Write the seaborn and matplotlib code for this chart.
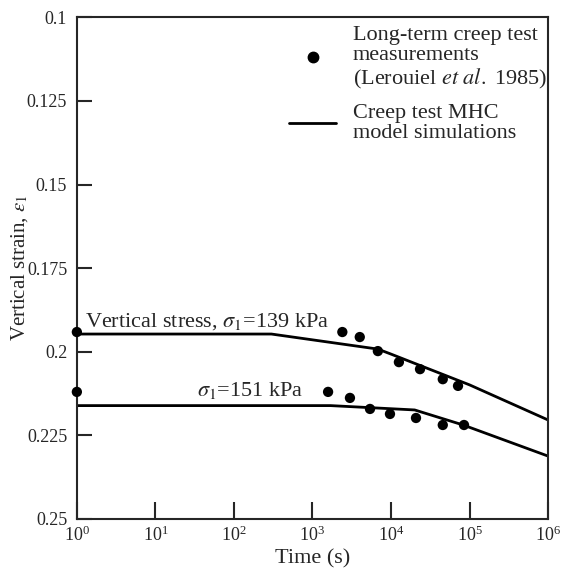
"""Creep test: measured vertical strain vs time with MHC model simulations"""

import matplotlib.pyplot as plt
import matplotlib.ticker as mticker
import pandas as pd
import seaborn as sns
from matplotlib.lines import Line2D

# measured points (Leroueil et al. 1985)
meas_t_139 = [1, 2400, 4000, 6800, 12600, 23400, 45600, 71300]
meas_e_139 = [0.1941, 0.1941, 0.1956, 0.1998, 0.2031, 0.2052, 0.2082, 0.2102]
meas_t_151 = [1, 1580, 3000, 5400, 9700, 20800, 45600, 85000]
meas_e_151 = [0.2120, 0.2120, 0.2138, 0.2171, 0.2186, 0.2198, 0.2219, 0.2219]

# model simulations
sim_t_139 = [1, 300, 6800, 1e4, 1e5, 1e6]
sim_e_139 = [0.1947, 0.1947, 0.1992, 0.2007, 0.2099, 0.2204]
sim_t_151 = [1, 1700, 2e4, 8.3e4, 1e6]
sim_e_151 = [0.2161, 0.2161, 0.2174, 0.2219, 0.2312]

y_ticks = [0.1, 0.125, 0.15, 0.175, 0.2, 0.225, 0.25]
y_tick_labels = ["0.1", "0.125", "0.15", "0.175", "0.2", "0.225", "0.25"]

sns.set_style("ticks")
plt.rcParams["font.family"] = ["Liberation Serif", "DejaVu Serif"]
plt.rcParams["mathtext.fontset"] = "stix"

meas = pd.concat([
    pd.DataFrame({"t": meas_t_139, "e": meas_e_139, "stress": "139"}),
    pd.DataFrame({"t": meas_t_151, "e": meas_e_151, "stress": "151"}),
])
sim = pd.concat([
    pd.DataFrame({"t": sim_t_139, "e": sim_e_139, "stress": "139"}),
    pd.DataFrame({"t": sim_t_151, "e": sim_e_151, "stress": "151"}),
])

fig = plt.figure(figsize=(5.61, 5.72), dpi=100)
ax = fig.add_axes([0.137, 0.0927, 0.84, 0.877])

sns.lineplot(data=sim, x="t", y="e", units="stress", estimator=None,
             color="black", linewidth=2, ax=ax, legend=False, sort=False)
sns.scatterplot(data=meas, x="t", y="e", color="black", s=55,
                edgecolor="none", ax=ax, legend=False, clip_on=False, zorder=5)

ax.set_xscale("log")
ax.set_xlim(1, 1e6)
ax.set_ylim(0.25, 0.1)
ax.set_xticks([10.0 ** k for k in range(7)])
ax.xaxis.set_minor_locator(mticker.NullLocator())
ax.xaxis.set_major_formatter(mticker.LogFormatterMathtext())
ax.set_yticks(y_ticks)
ax.set_yticklabels(y_tick_labels)

ax.tick_params(axis="both", direction="in", width=1.5, top=False, right=False)
ax.tick_params(axis="y", length=11, pad=7, labelsize=13)
ax.tick_params(axis="x", length=12, pad=5, labelsize=13)
for sp in ax.spines.values():
    sp.set_linewidth(1.5)

ax.set_xlabel("Time (s)", fontsize=16, labelpad=3)
ax.set_ylabel(r"Vertical strain, $\varepsilon_1$", fontsize=15)
ax.yaxis.set_label_coords(-0.1, 0.5)

ax.text(1.26, 0.1926, r"Vertical stress, $\sigma_1$=139 kPa", fontsize=16,
        va="baseline", ha="left")
ax.text(33.8, 0.2132, r"$\sigma_1$=151 kPa", fontsize=16,
        va="baseline", ha="left")

handles = [
    Line2D([], [], marker="o", linestyle="none", color="black", markersize=7.5),
    Line2D([], [], color="black", linewidth=2),
]
labels = [
    "Long-term creep test\nmeasurements\n(Lerouiel $\\mathit{et\\ al.}$ 1985)",
    "Creep test MHC\nmodel simulations",
]
leg = ax.legend(handles, labels, loc="upper right", bbox_to_anchor=(1.0, 0.985),
                frameon=False, fontsize=16, handlelength=2.1, handletextpad=0.75,
                labelspacing=0.6, borderaxespad=0.0, borderpad=0.05)
for txt in leg.get_texts():
    txt.set_linespacing(1.08)

fig.savefig("out.png", dpi=100)
